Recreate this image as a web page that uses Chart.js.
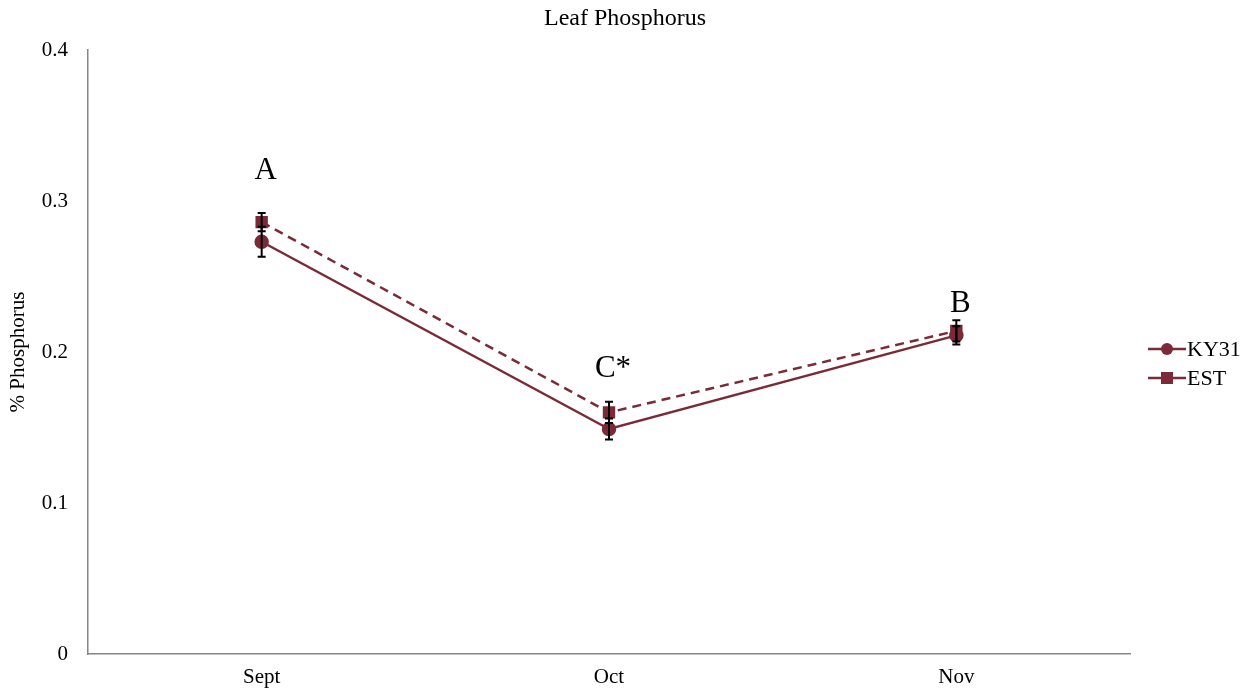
<!DOCTYPE html>
<html>
<head>
<meta charset="utf-8">
<script src="https://cdn.jsdelivr.net/npm/chart.js@4"></script>
<style>
  html, body { margin: 0; padding: 0; background: #fff; }
  #wrap { width: 1246px; height: 690px; }
</style>
</head>
<body>
<div id="wrap"><canvas id="chart"></canvas></div>
<script>
const months = ['Sept', 'Oct', 'Nov'];
const ky31 = [0.273, 0.149, 0.211];
const est = [0.286, 0.160, 0.214];
const ky31Err = [0.010, 0.007, 0.006];
const estErr = [0.006, 0.007, 0.007];
const sigLabels = ['A', 'C*', 'B'];
const sigValues = [0.320, 0.189, 0.232];
const chartTitle = 'Leaf Phosphorus';

const lineColor = '#7b2a38';
const serif = "'Liberation Serif', 'Times New Roman', serif";

// title centred on the whole page, error bars, letters and the side legend
const extras = {
  id: 'extras',
  afterDatasetsDraw(chart) {
    const ctx = chart.ctx;
    const x = chart.scales.x, y = chart.scales.y;
    ctx.save();
    ctx.strokeStyle = '#000';
    ctx.lineWidth = 2;
    [[ky31, ky31Err], [est, estErr]].forEach(([vals, errs]) => {
      vals.forEach((v, i) => {
        const px = x.getPixelForValue(i);
        const top = y.getPixelForValue(v + errs[i]);
        const bot = y.getPixelForValue(v - errs[i]);
        ctx.beginPath();
        ctx.moveTo(px, top); ctx.lineTo(px, bot);
        ctx.moveTo(px - 4, top); ctx.lineTo(px + 4, top);
        ctx.moveTo(px - 4, bot); ctx.lineTo(px + 4, bot);
        ctx.stroke();
      });
    });
    ctx.restore();
  },
  afterDraw(chart) {
    const ctx = chart.ctx;
    const x = chart.scales.x, y = chart.scales.y;
    ctx.save();
    ctx.fillStyle = '#000';
    ctx.textAlign = 'center';
    ctx.textBaseline = 'middle';
    ctx.font = '24px ' + serif;
    ctx.fillText(chartTitle, chart.width / 2 + 2, 19);

    ctx.font = '31px ' + serif;
    sigLabels.forEach((t, i) => {
      ctx.fillText(t, x.getPixelForValue(i) + 4, y.getPixelForValue(sigValues[i]));
    });

    const lx = chart.chartArea.right + 18;
    const ly = 349;
    chart.data.datasets.forEach((ds, i) => {
      const yy = ly + i * 29;
      ctx.strokeStyle = ds.borderColor;
      ctx.lineWidth = 2.5;
      ctx.setLineDash([]);
      ctx.beginPath();
      ctx.moveTo(lx, yy); ctx.lineTo(lx + 38, yy);
      ctx.stroke();
      ctx.fillStyle = ds.backgroundColor;
      if (ds.pointStyle === 'rect') {
        ctx.fillRect(lx + 19 - 6, yy - 6, 12, 12);
      } else {
        ctx.beginPath();
        ctx.arc(lx + 19, yy, 6, 0, Math.PI * 2);
        ctx.fill();
      }
      ctx.fillStyle = '#000';
      ctx.font = '22px ' + serif;
      ctx.textAlign = 'left';
      ctx.fillText(ds.label, lx + 39, yy + 1);
    });
    ctx.restore();
  }
};

new Chart(document.getElementById('chart'), {
  type: 'line',
  data: {
    labels: months,
    datasets: [
      {
        label: 'KY31',
        data: ky31,
        borderColor: lineColor,
        backgroundColor: lineColor,
        borderWidth: 2.5,
        pointStyle: 'circle',
        pointRadius: 6,
        pointHoverRadius: 6,
        tension: 0
      },
      {
        label: 'EST',
        data: est,
        borderColor: lineColor,
        backgroundColor: lineColor,
        borderWidth: 2.5,
        borderDash: [9, 6],
        pointStyle: 'rect',
        pointRadius: 7,
        pointHoverRadius: 7,
        tension: 0
      }
    ]
  },
  options: {
    responsive: true,
    maintainAspectRatio: false,
    animation: false,
    layout: { padding: { left: 0, right: 116, top: 50, bottom: 0 } },
    plugins: {
      legend: { display: false },
      tooltip: { enabled: false },
      title: { display: false }
    },
    scales: {
      x: {
        offset: true,
        grid: { display: false, drawTicks: false },
        border: { display: true, color: '#868686', width: 1.5 },
        ticks: { color: '#000', font: { family: serif, size: 21 }, padding: 11 },
        afterFit(scale) { scale.height = 36; }
      },
      y: {
        min: 0,
        max: 0.4,
        grid: { display: false, drawTicks: false },
        border: { display: true, color: '#868686', width: 1.5 },
        ticks: { stepSize: 0.1, color: '#000', font: { family: serif, size: 21 }, padding: 20 },
        title: {
          display: true,
          text: '% Phosphorus',
          color: '#000',
          font: { family: serif, size: 21 },
          padding: { top: 6, bottom: 0 }
        },
        afterFit(scale) { scale.width = 88; }
      }
    }
  },
  plugins: [extras]
});
</script>
</body>
</html>
